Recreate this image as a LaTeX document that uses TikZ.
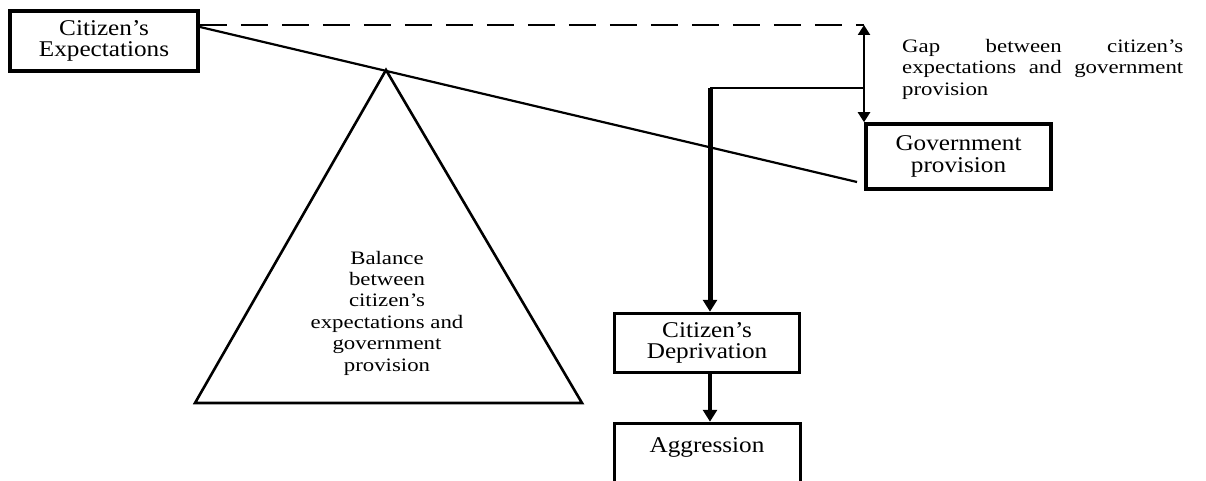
\documentclass[tikz,border=0pt]{standalone}
\usepackage{fontspec}
\setmainfont{Liberation Serif}[FakeStretch=1.2]
\newfontfamily\boxfamily{Liberation Serif}[FakeStretch=1.12]
\usetikzlibrary{arrows.meta}

\newcommand\boxfont{\boxfamily\fontsize{22.5}{21.5}\selectfont}
\newcommand\notefont{\fontsize{19}{21.4}\selectfont}

\tikzset{
  stagebox/.style={draw, line width=3.5pt, fill=white, inner sep=0pt,
    align=center, font=\boxfont},
  thinline/.style={line width=2.2pt},
  heavyline/.style={line width=5pt},
  flowtip/.style={-{Triangle[length=12pt,width=14pt]}},
  gaptip/.style={{Triangle[length=10pt,width=12pt]}-{Triangle[length=10pt,width=12pt]}},
  note/.style={inner sep=0pt, font=\notefont},
}

\begin{document}
\begin{tikzpicture}[x=1pt, y=-1pt]
  \useasboundingbox (0,0) rectangle (1206,481);
  \clip (0,0) rectangle (1206,481);
  \fill[white] (0,0) rectangle (1206,481);

  % balance triangle
  \coordinate (apex) at (386,70);
  \coordinate (baseL) at (195,403);
  \coordinate (baseR) at (582,403);
  \draw[line width=2.6pt, line join=miter] (apex) -- (baseL) -- (baseR) -- cycle;
  \node[note, align=center] (balance) at (387,313)
    {Balance\\between\\citizen’s\\expectations and\\government\\provision};

  % boxes
  \node[stagebox, minimum width=188pt, minimum height=60pt] (expect) at (104,41)
    {Citizen’s\\Expectations};
  \node[stagebox, minimum width=185pt, minimum height=65pt] (gov) at (958.5,156.5)
    {Government\\provision};
  \node[stagebox, minimum width=185pt, minimum height=59pt] (depr) at (707,343)
    {Citizen’s\\Deprivation};
  \node[stagebox, minimum width=186pt, minimum height=70pt] (aggr) at (707.5,458.5) {};
  \node[inner sep=0pt, font=\boxfont] (aggrtext) at (707,447) {Aggression};

  % tilted beam resting on the apex
  \coordinate (beamL) at (200,27);
  \coordinate (beamR) at (857,182);
  \draw[thinline] (beamL) -- (beamR);

  % expectation level and the gap
  \coordinate (gaptop) at (864,25);
  \draw[thinline, dash pattern=on 27pt off 14pt] (expect.east |- gaptop) -- (gaptop);
  \draw[thinline, gaptip] (gaptop) -- (gaptop |- gov.north);
  \node[note, text width=281pt, align=justify, anchor=north west] (gaptext) at (902,39)
    {Gap between citizen’s\linebreak expectations and government\linebreak provision};

  % gap leads to deprivation, then aggression
  \coordinate (branch) at (864,88);
  \coordinate (elbow) at (710,88);
  \draw[thinline] (branch) -- (elbow);
  \draw[heavyline, flowtip] (elbow) -- (elbow |- depr.north);
  \draw[line width=3.2pt, flowtip] (elbow |- depr.south) -- (elbow |- aggr.north);
\end{tikzpicture}
\end{document}
